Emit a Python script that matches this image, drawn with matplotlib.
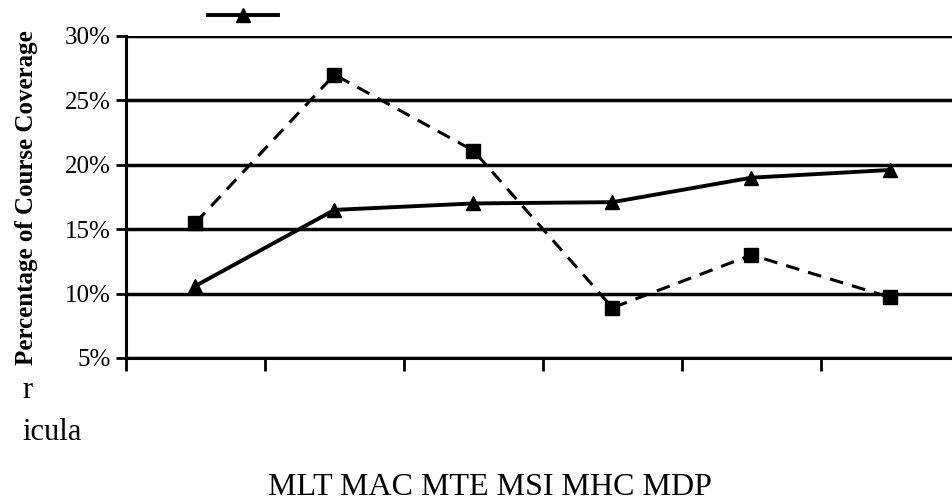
import matplotlib
matplotlib.use("Agg")
import matplotlib.pyplot as plt
from matplotlib.lines import Line2D
from matplotlib.ticker import FixedLocator, PercentFormatter

plt.rcParams['font.family'] = ['Liberation Serif', 'DejaVu Serif']

# data
programmes = ["MLT", "MAC", "MTE", "MSI", "MHC", "MDP"]
triangle_series = [10.6, 16.5, 17.0, 17.1, 19.0, 19.6]
square_series = [15.5, 27.0, 21.1, 8.9, 13.0, 9.7]
y_ticks = [5, 10, 15, 20, 25, 30]

fig = plt.figure(figsize=(9.53, 5.03), dpi=100)
# axes runs off the right edge as in the source picture
ax = fig.add_axes([126 / 953, 1 - 358 / 503, 834 / 953, 322 / 503])

xs = [i + 0.5 for i in range(len(programmes))]
ax.plot(xs, triangle_series, color="black", lw=2.8, marker="^", ms=10,
        zorder=3, clip_on=False)
ax.plot(xs, square_series, color="black", lw=2.2, ls=(0, (4.5, 3)), marker="s",
        ms=10, zorder=3, clip_on=False)

ax.set_xlim(0, len(programmes))
ax.set_ylim(5, 30)
ax.set_yticks(y_ticks)
ax.yaxis.set_major_formatter(PercentFormatter(decimals=0))
ax.xaxis.set_major_locator(FixedLocator(range(len(programmes) + 1)))
ax.set_xticklabels([])
ax.grid(axis="y", color="black", lw=2.5)
ax.set_axisbelow(True)
for side in ("top", "right"):
    ax.spines[side].set_visible(False)
for side in ("left", "bottom"):
    ax.spines[side].set_linewidth(2.2)
ax.tick_params(axis="x", direction="out", length=9, width=2)
ax.tick_params(axis="y", direction="out", length=7, width=2, labelsize=18, pad=4)

ax.set_ylabel("Percentage of Course Coverage", fontsize=18, fontweight="bold")
ax.yaxis.set_label_coords(-88 / 834, 160 / 322)

# legend handle only; its text is cropped away in the source
handle = Line2D([], [], color="black", lw=2.8, marker="^", ms=10)
fig.legend(handles=[handle], labels=[""], loc="center", frameon=False,
           bbox_to_anchor=(243 / 953, 1 - 16 / 503), handlelength=5.0,
           handletextpad=0, borderpad=0)

fig.text(22 / 953, 1 - 390 / 503, "r", fontsize=22, va="center", ha="left")
fig.text(22 / 953, 1 - 432 / 503, "icula", fontsize=22, va="center", ha="left")
fig.text(490 / 953, 1 - 495 / 503, " ".join(programmes), fontsize=23,
         va="baseline", ha="center")

fig.savefig("out.png", dpi=100)
